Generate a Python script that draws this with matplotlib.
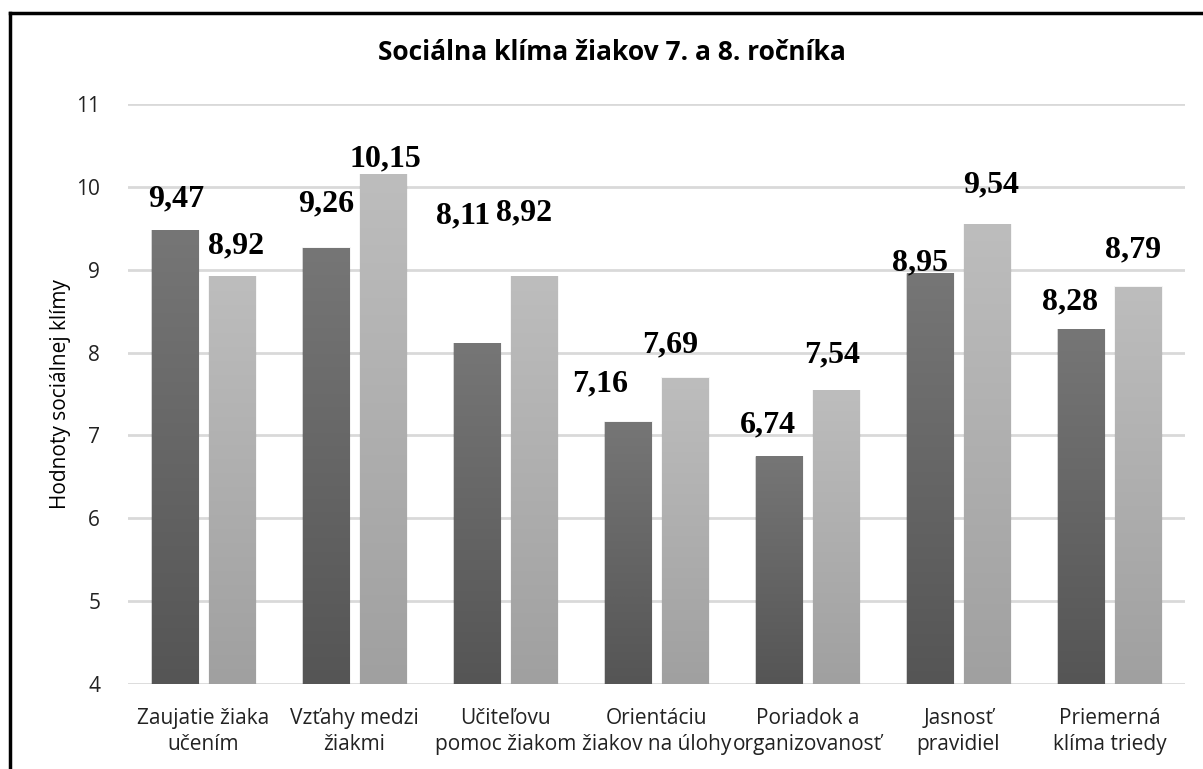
import numpy as np
import matplotlib
matplotlib.use("Agg")
import matplotlib.pyplot as plt
from matplotlib.colors import LinearSegmentedColormap
from matplotlib.patches import Rectangle
from matplotlib.lines import Line2D

# data
categories = ["Zaujatie žiaka\nučením", "Vzťahy medzi\nžiakmi", "Učiteľovu\npomoc žiakom",
              "Orientáciu\nžiakov na úlohy", "Poriadok a\norganizovanosť", "Jasnosť\npravidiel",
              "Priemerná\nklíma triedy"]
grade7 = [9.47, 9.26, 8.11, 7.16, 6.74, 8.95, 8.28]
grade8 = [8.92, 10.15, 8.92, 7.69, 7.54, 9.54, 8.79]
yticks = [4, 5, 6, 7, 8, 9, 10, 11]

# manual label offsets (pixels) as placed in the original chart
off7 = [(1, 32), (0, 44), (-14, 128), (-28, 38), (-11, 32), (-10, 11), (-11, 27)]
off8 = [(4, 30), (2, 15), (-10, 63), (-15, 33), (-4, 36), (4, 40), (-5, 37)]

fig = plt.figure(figsize=(12.03, 7.69), dpi=100)
ax = fig.add_axes([0.1064, 0.1105, 0.8786, 0.7543])

cmap_dark = LinearSegmentedColormap.from_list("dark", ["#555555", "#767676"])
cmap_light = LinearSegmentedColormap.from_list("light", ["#a0a0a0", "#bdbdbd"])
grad = np.linspace(0, 1, 256).reshape(-1, 1)

x = np.arange(len(categories))
w = 0.305
shift = 0.19
base = 4


def draw_bar(xc, val, cmap):
    x0, x1 = xc - w / 2, xc + w / 2
    # soft shadow
    for k, a in zip([0.012, 0.008, 0.004], [0.04, 0.06, 0.08]):
        ax.add_patch(Rectangle((x0 - k * 0.5, base), w + k * 1.5, val - base + k * 0.8,
                               facecolor="#000000", alpha=a, edgecolor="none", zorder=2))
    ax.imshow(grad, extent=[x0, x1, base, val], origin="lower", aspect="auto",
              cmap=cmap, zorder=3, interpolation="bicubic")


for i in range(len(categories)):
    draw_bar(x[i] - shift, grade7[i], cmap_dark)
    draw_bar(x[i] + shift, grade8[i], cmap_light)
    for xc, v, off in [(x[i] - shift, grade7[i], off7[i]), (x[i] + shift, grade8[i], off8[i])]:
        ax.annotate(f"{v:.2f}".replace(".", ","), xy=(xc, v), xytext=off,
                    textcoords="offset pixels", ha="center", va="center",
                    family="Liberation Serif", fontweight="bold", fontsize=23,
                    color="black", zorder=5)

ax.set_xlim(-0.5, len(categories) - 0.5)
ax.set_ylim(4, 11)
ax.set_yticks(yticks)
ax.set_xticks(x)
ax.set_xticklabels(categories, family="Open Sans", fontsize=15, linespacing=1.35)
for lab in ax.get_yticklabels():
    lab.set_family("Open Sans")
    lab.set_fontsize(15)
ax.tick_params(axis="both", length=0, colors="#222222")
ax.tick_params(axis="y", pad=20)
ax.tick_params(axis="x", pad=17)
ax.yaxis.grid(True, color="#d9d9d9", linewidth=2)
ax.set_axisbelow(True)
for s in ax.spines.values():
    s.set_visible(False)
ax.set_ylabel("Hodnoty sociálnej klímy", family="Open Sans", fontsize=15,
              va="center", ha="center")
ax.yaxis.label.set_rotation_mode("default")
ax.yaxis.set_label_coords(-0.0634, 0.5)

fig.text(0.509, 0.932, "Sociálna klíma žiakov 7. a 8. ročníka", ha="center", va="center",
         family="Open Sans", fontweight="bold", fontsize=19)

# frame (top and left edges visible)
fig.add_artist(Line2D([10 / 1203, 1], [1 - 13 / 769, 1 - 13 / 769], color="black", linewidth=2.5))
fig.add_artist(Line2D([10 / 1203, 10 / 1203], [0, 1 - 13 / 769], color="black", linewidth=2.5))

fig.savefig("out.png", dpi=100)
